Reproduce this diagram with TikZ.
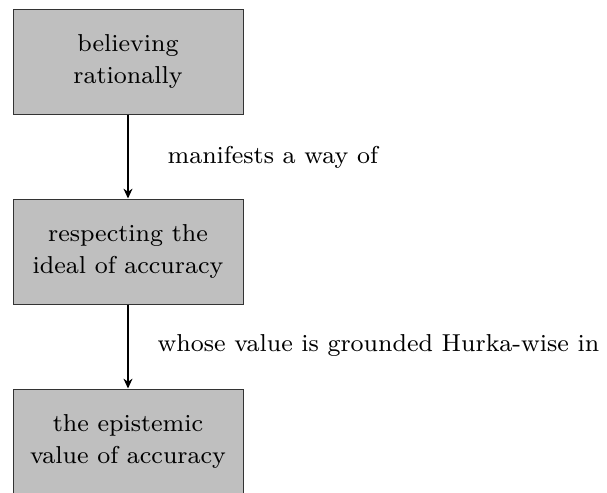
\documentclass[tikz,border=0pt]{standalone}
\usetikzlibrary{arrows.meta}
\begin{document}
\begin{tikzpicture}[x=0.335pt,y=-0.335pt,
  box/.style={draw=black!80,fill=black!25,line width=0.335pt,minimum width=230*0.335pt,minimum height=105*0.335pt,align=center,inner sep=0pt,font=\fontsize{8.2}{10.4}\selectfont},
  lab/.style={anchor=west,inner sep=0pt,font=\fontsize{8.2}{10.4}\selectfont},
  conn/.style={-{Stealth[length=3.3pt,width=3pt]},line width=0.67pt}]
\useasboundingbox (0,0) rectangle (607,492);
\node[box] (a) at (128,61.5) {believing\\rationally};
\node[box] (b) at (128,251.5) {respecting the\\ideal of accuracy};
\node[box] (c) at (128,441.5) {the epistemic\\value of accuracy};
\draw[conn] (a) -- (b);
\draw[conn] (b) -- (c);
\node[lab] (l1) at (167,157) {manifests a way of};
\node[lab] (l2) at (157,346) {whose value is grounded Hurka-wise in};
\end{tikzpicture}
\end{document}
